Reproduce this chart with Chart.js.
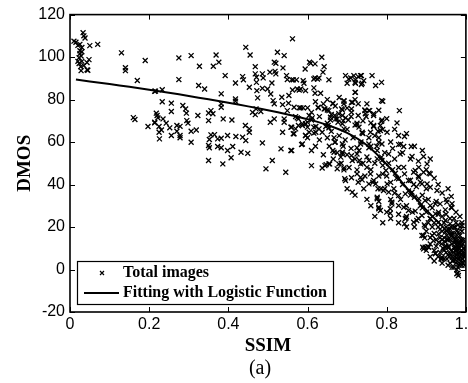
<!DOCTYPE html>
<html>
<head>
<meta charset="utf-8">
<script src="https://cdn.jsdelivr.net/npm/chart.js@4"></script>
<style>
  body { margin: 0; overflow: hidden; background: #fff; }
  canvas { display: block; }
</style>
</head>
<body>
<canvas id="ssim-graph" width="480" height="383"></canvas>
<script>
// [SSIM, DMOS] of every image
const totalImages = [
    [0.015,107],[0.033,111.5],[0.035,110],[0.025,106],[0.03,104.5],[0.05,105.4],[0.07,106],[0.025,103],
    [0.025,101.6],[0.023,99.7],[0.03,98],[0.023,97],[0.043,97.4],[0.048,98.8],[0.043,94],[0.028,93.6],
    [0.02,105.5],[0.028,100.5],[0.035,96],[0.02,98],[0.045,93.8],[0.03,102.5],[0.01,107.5],[0.038,109],[0.027,95.5],
    [0.13,102],[0.14,95],[0.14,93.6],[0.19,98.4],[0.17,89],[0.216,84],[0.16,71.5],[0.164,70.6],[0.197,67.3],
    [0.214,69],[0.22,72.5],
    [0.275,99.6],[0.306,100.7],[0.327,95.7],[0.369,101],[0.376,97.6],[0.362,95.7],[0.444,104.6],[0.455,101],
    [0.275,89.4],[0.325,86.6],[0.34,85],[0.392,91.3],[0.418,87.8],[0.436,90.8],[0.438,89.3],[0.453,85.8],
    [0.468,95.5],[0.468,92.1],[0.471,90.5],[0.471,88.1],[0.486,92.1],[0.488,90.2],[0.505,92.9],[0.518,93.3],
    [0.52,92.1],[0.524,102.3],[0.541,100.7],[0.516,97.6],[0.52,97.1],[0.538,94.9],[0.547,91.3],[0.549,89.4],
    [0.56,89.3],[0.472,84.2],[0.486,85.3],[0.499,85],[0.51,87.8],[0.507,82.6],[0.513,79.5],[0.516,78],
    [0.535,81.1],[0.553,81.9],[0.562,84.5],[0.574,85],[0.537,77.6],[0.552,78.3],[0.566,76.4],[0.474,80.8],
    [0.418,80.3],[0.418,79.2],[0.382,82.7],[0.382,78],[0.382,76.4],[0.233,84.6],[0.214,83.9],[0.233,79],
    [0.256,78.3],[0.256,74.4],[0.285,77.2],[0.292,75.6],[0.294,73.6],[0.323,72.5],[0.35,73.7],[0.356,74.8],
    [0.361,73.3],[0.35,70.1],[0.387,70.9],[0.409,70.4],[0.218,73.6],[0.222,71.4],[0.235,70.9],[0.214,69.3],
    [0.243,68.9],[0.225,67.3],[0.231,65.7],[0.225,64.6],[0.226,61.5],[0.252,66.7],[0.256,63.1],[0.27,67.8],
    [0.278,67.4],[0.27,65.1],[0.278,63.1],[0.278,62],[0.295,70.1],[0.298,68.9],[0.306,65.1],[0.319,65.7],
    [0.306,59.9],[0.352,61.2],[0.356,63.4],[0.365,63.5],[0.373,61.5],[0.382,61.8],[0.398,63.1],[0.419,62.6],
    [0.436,62.3],[0.444,60.7],[0.453,66.2],[0.453,64.6],[0.443,67.8],[0.35,58.4],[0.352,57.3],[0.373,57.9],
    [0.382,57.3],[0.398,56],[0.411,57.9],[0.407,52.6],[0.432,55.2],[0.449,54.7],[0.35,51.3],[0.386,49.7],
    [0.486,59.6],[0.461,74],[0.47,75.6],[0.482,74.4],[0.468,72.9],[0.506,69.3],[0.516,70.9],[0.541,70.9],
    [0.541,69.3],[0.537,64.6],[0.533,56.8],[0.558,56],[0.511,51.3],[0.495,47.4],[0.56,67],[0.566,63.9],
    [0.57,66.2],[0.574,71.4],[0.549,74.8],[0.545,45.8],[0.585,58.8],[0.595,63.1],
    [0.562,108.6],[0.594,94.4],[0.589,88.9],[0.591,87.7],[0.572,89.3],[0.583,85],[0.595,84.2],[0.579,76.1],
    [0.589,76.1],[0.6,76.1],[0.587,67.8],[0.595,68.6],
    [0.636,99.9],[0.605,97.6],[0.619,96.8],[0.642,95.5],[0.639,92.9],[0.616,89.7],[0.625,89.7],[0.654,89.3],
    [0.579,84.5],[0.616,85.5],[0.619,83],[0.633,83],[0.696,91.3],[0.704,89.7],[0.717,91.3],[0.721,89.3],
    [0.728,90.8],[0.736,91.3],[0.742,88.9],[0.738,87.7],[0.72,88.1],[0.7,87.7],[0.721,83.4],[0.79,79.2],
    [0.832,74.8],[0.826,69],[0.788,70.4],[0.664,78],[0.692,79.2],[0.692,78],[0.714,78.7],[0.728,78],
    [0.583,76.1],[0.627,76.1],[0.642,75.6],[0.65,75.1],[0.686,75.6],[0.711,75.6],[0.711,74],[0.745,74.8],
    [0.755,74.8],[0.728,72.5],[0.748,72],[0.767,72.5],[0.787,69.8],[0.604,72.5],[0.612,71.4],[0.658,71.7],
    [0.669,72.5],[0.679,73.3],[0.688,72.5],[0.675,70.9],[0.696,71.4],[0.703,70.4],[0.725,68.2],[0.767,67.3],
    [0.784,67.8],[0.6,67],[0.621,67.3],[0.652,67.8],[0.654,66.7],
    [0.608,97.1],[0.564,89.3],[0.619,90.2],[0.629,90.2],[0.709,90.2],[0.734,91.3],[0.721,87.7],[0.736,87.1],
    [0.763,91.3],[0.772,86.6],[0.787,88.1],[0.72,83.4],[0.664,78.3],[0.692,79.5],[0.711,78.7],[0.787,79.5],
    [0.627,76.4],[0.644,75.6],[0.654,74.8],[0.688,75.1],[0.745,75.1],[0.757,74.8],[0.746,73.3],[0.767,73.3],
    [0.57,72],[0.577,70.9],[0.558,67],[0.564,63.9],[0.577,67.8],[0.587,68.6],[0.6,69.3],[0.61,70.4],
    [0.616,67],[0.621,64.6],[0.604,64.6],[0.629,66.2],[0.637,64.6],[0.646,67.3],[0.65,68.9],[0.658,70.4],
    [0.671,70.9],[0.677,69.3],[0.688,68.6],[0.692,66.2],[0.725,68.9],[0.738,64.6],[0.759,64.6],[0.778,65.1],
    [0.801,64.6],[0.788,59.1],[0.587,59.1],[0.56,56],[0.667,62],[0.664,56],[0.688,59.1],[0.688,55.2],
    [0.684,52.9],[0.711,53.6],[0.725,57.3],[0.725,54.4],[0.734,59.1],[0.755,57.3],[0.731,51.3],[0.755,51.3],
    [0.776,52.1],[0.776,56],[0.787,52.9],[0.61,48.9],[0.637,47.8],[0.647,49.4],[0.654,49.7],[0.675,47.4],
    [0.692,47.8],[0.694,42.7],[0.725,46.9],[0.734,43.4],[0.759,45],
    [0.644,48.9],[0.656,49.7],[0.692,46.9],[0.696,41.9],[0.711,43.2],[0.713,36.4],[0.728,41.1],[0.738,42.2],
    [0.742,38],[0.755,40.3],[0.767,41.9],[0.776,33.3],[0.78,28.6],[0.784,27.8],[0.805,36.4],[0.809,28.6],
    [0.813,31.7],[0.83,34.8],[0.849,24.3],[0.845,21.5],[0.868,22.3],[0.876,23.1],[0.897,20.2],[0.893,16],
    [0.896,14.9],[0.891,10.5],[0.904,10.8],[0.927,37.2],[0.963,34.4],[0.964,29],[0.864,53.2],[0.893,53.2],
    [0.902,49.7],[0.907,45.3],[0.872,46.6],[0.881,48.1],[0.83,63.1],[0.845,62.6],[0.862,57.9],[0.83,58.8],
    [0.834,54.4],[0.843,57.9],[0.784,65.4],[0.78,59.9],[0.755,59.1],[0.738,64.2],[0.767,67.8],[0.595,63.1],
    [0.616,64.2],[0.669,59.9],[0.667,55.2],[0.688,54.4],[0.679,49.7],[0.713,51.3],[0.734,49.7],[0.75,48.1],
    [0.788,51.3],[0.805,54.4],[0.798,46.6],[0.822,45.3],[0.843,48.1],[0.83,42.7],[0.855,41.9],[0.868,40],
    [0.885,41.1],[0.801,40.3],[0.792,37.2],[0.818,38],[0.847,35.6],[0.864,36.4],[0.881,33.3],[0.897,32.5],
    [0.91,30.1],[0.923,30.9],[0.931,27],[0.948,28.1],[0.83,30.1],[0.843,29.3],[0.855,27.8],[0.872,27.5],
    [0.889,25.4],[0.91,23.9],[0.931,22.3],[0.948,23.1],[0.96,21.5],[0.973,19.9],[0.99,20.7],[0.981,17.6],
    [0.964,16],[0.948,17.6],[0.931,16.8],[0.952,14.4],[0.969,12.8],[0.99,13.6],[0.973,10.5],[0.956,10.5],
    [0.939,12.1],[0.918,13.6],
    [0.897,10.5],[0.923,7.4],[0.939,5.8],[0.952,5],[0.969,4.2],[0.977,-0.1],[0.977,-2],[0.99,3.4],
    [0.973,8.9],[0.981,7.4],[0.948,10.5],[0.96,7.4],[0.994,6.6],[0.931,12.8],[0.939,5],[0.985,2.7],
    [0.772,40.3],[0.778,38],[0.776,34],[0.78,29.3],[0.809,26.5],[0.813,30.9],[0.847,23.9],[0.889,16],
    [0.893,9.7],[0.906,10.5],[0.923,7.7],[0.937,5],[0.973,4.6],[0.98,-1.7],[0.981,-2.8],[0.963,29.3],
    [0.952,31.7],[0.935,30.9],[0.923,26.2],[0.91,38.7],[0.902,40.3],[0.889,40.3],[0.881,43.4],[0.868,45.8],
    [0.893,45.8],[0.91,45],
    [0.93,20],[0.935,15],[0.94,18],[0.942,10],[0.945,22],[0.948,13],[0.95,8],[0.952,16],[0.955,19],[0.956,11],
    [0.958,6],[0.96,14],[0.962,9],[0.963,17],[0.965,12],[0.966,4],[0.968,8],[0.97,15],[0.971,10],[0.972,6],
    [0.974,13],[0.975,3],[0.976,9],[0.977,18],[0.978,7],[0.979,11],[0.98,5],[0.981,14],[0.982,8],[0.983,2],
    [0.984,10],[0.985,6],[0.986,12],[0.987,4],[0.988,9],[0.989,7],[0.99,11],[0.991,5],[0.992,8],[0.993,3],
    [0.994,10],[0.995,6],[0.996,4],[0.997,8],[0.97,20],[0.96,24],[0.95,26],[0.94,25],[0.975,22],[0.985,16],
    [0.99,18],[0.98,1],[0.965,1],[0.955,2],[0.945,5],[0.935,8],[0.925,11],[0.92,17],[0.915,20],[0.91,15],
    [0.8,44],[0.805,50],[0.81,41],[0.815,47],[0.82,36],[0.825,43],[0.83,48],[0.835,33],[0.84,40],[0.845,45],
    [0.85,30],[0.855,37],[0.86,42],[0.865,27],[0.87,34],[0.875,39],[0.88,24],[0.885,30],[0.89,35],[0.895,21],
    [0.9,27],[0.905,33],[0.91,24],[0.915,29],[0.92,22],[0.925,32],[0.93,26],[0.82,52],[0.84,55],[0.86,35],
    [0.88,44],[0.9,38],[0.87,20],[0.89,29],[0.85,25],[0.83,26],[0.81,33],[0.79,45],[0.795,38],
    [0.65,62],[0.655,58],[0.66,65],[0.665,52],[0.67,60],[0.675,55],[0.68,63],[0.685,50],[0.69,58],[0.695,61],
    [0.7,54],[0.705,48],[0.71,57],[0.715,62],[0.72,52],[0.725,45],[0.73,56],[0.735,60],[0.74,50],[0.745,44],
    [0.75,53],[0.755,62],[0.76,47],[0.765,41],[0.77,50],[0.775,58],[0.78,44],[0.785,38],[0.79,49],[0.795,55],
    [0.7,66],[0.72,68],[0.74,64],[0.76,58],[0.78,62],[0.62,58],[0.63,61],[0.64,54],[0.6,62],[0.61,56],
    [0.61,74],[0.62,79],[0.63,72],[0.64,78],[0.65,80],[0.66,73],[0.67,77],[0.68,81],[0.69,70],[0.7,76],
    [0.71,72],[0.72,80],[0.73,67],[0.74,70],[0.75,78],[0.76,69],[0.77,63],[0.78,75],[0.79,66],[0.8,71],
    [0.81,60],[0.82,66],[0.815,57],[0.835,59],[0.85,64],[0.86,52],[0.87,58],[0.88,51],[0.89,56],[0.9,47],
    [0.91,52],[0.92,43],[0.93,40],[0.94,36],[0.95,33],[0.955,38],[0.965,31],[0.975,27],[0.985,25],[0.99,22],
    [0.7,38],[0.72,35],[0.75,33],[0.76,30],[0.77,25],[0.79,22],[0.8,27],[0.9,9],[0.91,6],[0.92,4],
    [0.85,20],[0.83,22],[0.81,24],[0.78,32],
    [0.9,18],[0.905,22],[0.91,12],[0.915,16],[0.92,9],[0.925,14],[0.93,6],[0.935,19],[0.94,3],[0.945,15],
    [0.95,11],[0.955,14],[0.96,3],[0.963,20],[0.967,17],[0.97,1],[0.973,14],[0.976,12],[0.978,16],[0.98,10],
    [0.982,12],[0.984,5],[0.986,8],[0.988,14],[0.99,2],[0.992,12],[0.994,14],[0.996,10],[0.997,2],[0.998,6],
    [0.95,20],[0.96,19],[0.97,24],[0.98,21],[0.985,20],[0.94,14],[0.945,9],[0.955,7],[0.965,6],[0.975,7]
];

// fitted logistic curve
const fitSsim = [0.015, 0.05, 0.1, 0.15, 0.2, 0.25, 0.3, 0.35, 0.4, 0.45, 0.5, 0.55, 0.6, 0.65, 0.7,
    0.75, 0.8, 0.85, 0.9, 0.95, 0.99];
const fitDmos = [89.4, 88.5, 87.3, 86, 84.6, 83.2, 81.7, 80.1, 78.5, 76.8, 75, 73, 70.8, 68, 64.3,
    58.5, 49.5, 38.5, 28, 18.5, 11];

const legendLabels = ['Total images', 'Fitting with Logistic Function'];
const captionText = '(a)';

const serif = "'Liberation Serif', 'Times New Roman', serif";
const sans = "'Liberation Sans', Arial, Helvetica, sans-serif";

// MATLAB style box with inward ticks, legend inside the plot, caption under it
const matlabFrame = {
    id: 'matlabFrame',
    afterDatasetsDraw(chart) {
        const {ctx, chartArea: a, scales: {x, y}} = chart;
        ctx.save();
        ctx.strokeStyle = '#000';
        ctx.lineWidth = 1;
        ctx.beginPath();
        x.ticks.forEach(t => {
            const px = Math.round(x.getPixelForValue(t.value)) + 0.5;
            ctx.moveTo(px, a.bottom); ctx.lineTo(px, a.bottom - 5);
            ctx.moveTo(px, a.top); ctx.lineTo(px, a.top + 5);
        });
        y.ticks.forEach(t => {
            const py = Math.round(y.getPixelForValue(t.value)) + 0.5;
            ctx.moveTo(a.left, py); ctx.lineTo(a.left + 5, py);
            ctx.moveTo(a.right, py); ctx.lineTo(a.right - 5, py);
        });
        ctx.stroke();
        ctx.lineWidth = 1.6;
        ctx.strokeRect(a.left, a.top, a.right - a.left, a.bottom - a.top);

        // legend
        const lx = 77.5, ly = 261.5, lw = 256, lh = 43;
        ctx.fillStyle = '#fff';
        ctx.fillRect(lx, ly, lw, lh);
        ctx.lineWidth = 1.2;
        ctx.strokeRect(lx, ly, lw, lh);
        ctx.lineWidth = 1.2;
        ctx.beginPath();
        ctx.moveTo(100, 271); ctx.lineTo(104, 275);
        ctx.moveTo(104, 271); ctx.lineTo(100, 275);
        ctx.stroke();
        ctx.lineWidth = 2;
        ctx.beginPath();
        ctx.moveTo(84, 293); ctx.lineTo(119, 293);
        ctx.stroke();
        ctx.fillStyle = '#000';
        ctx.font = 'bold 16px ' + serif;
        ctx.textBaseline = 'middle';
        ctx.textAlign = 'left';
        ctx.fillText(chart.data.datasets[0].label, 123, 273);
        ctx.fillText(chart.data.datasets[1].label, 123, 293);

        ctx.font = '20px ' + serif;
        ctx.textAlign = 'center';
        ctx.fillText(captionText, 260, 369);
        ctx.restore();
    }
};

const ssimChart = document.getElementById('ssim-graph');

let ssimGraph = new Chart(ssimChart, {
    type: 'scatter',
    data: {
        datasets: [{
            label: legendLabels[0],
            data: totalImages.map(p => ({x: p[0], y: p[1]})),
            pointStyle: 'crossRot',
            pointRadius: 3.5,
            borderWidth: 1.3,
            borderColor: '#000',
            backgroundColor: '#000',
            showLine: false,
        }, {
            label: legendLabels[1],
            data: fitSsim.map((s, i) => ({x: s, y: fitDmos[i]})),
            showLine: true,
            borderColor: '#000',
            borderWidth: 2,
            pointRadius: 0,
            tension: 0.3,
        }]
    },
    options: {
        responsive: false,
        animation: false,
        devicePixelRatio: 1,
        layout: { padding: { top: 14.5, right: 12.5, left: 0, bottom: 0 } },
        plugins: { legend: { display: false }, tooltip: { enabled: false } },
        scales: {
            x: {
                type: 'linear',
                min: 0,
                max: 1,
                grid: { display: false, drawTicks: false },
                border: { display: false },
                ticks: {
                    stepSize: 0.2,
                    autoSkip: false,
                    maxRotation: 0,
                    padding: 3,
                    color: '#000',
                    font: { family: sans, size: 16 },
                },
                title: {
                    display: true,
                    text: 'SSIM',
                    color: '#000',
                    font: { family: serif, size: 19, weight: 'bold' },
                    padding: { top: 0, bottom: 25.6 },
                },
                afterFit: (s) => { s.height = 71; },
            },
            y: {
                min: -20,
                max: 120,
                grid: { display: false, drawTicks: false },
                border: { display: false },
                ticks: {
                    stepSize: 20,
                    padding: 5,
                    color: '#000',
                    font: { family: sans, size: 16 },
                },
                title: {
                    display: true,
                    text: 'DMOS',
                    color: '#000',
                    font: { family: serif, size: 19, weight: 'bold' },
                    padding: { top: 13.6, bottom: 0 },
                },
                afterFit: (s) => { s.width = 70; },
            },
        },
    },
    plugins: [matlabFrame],
});
</script>
</body>
</html>
